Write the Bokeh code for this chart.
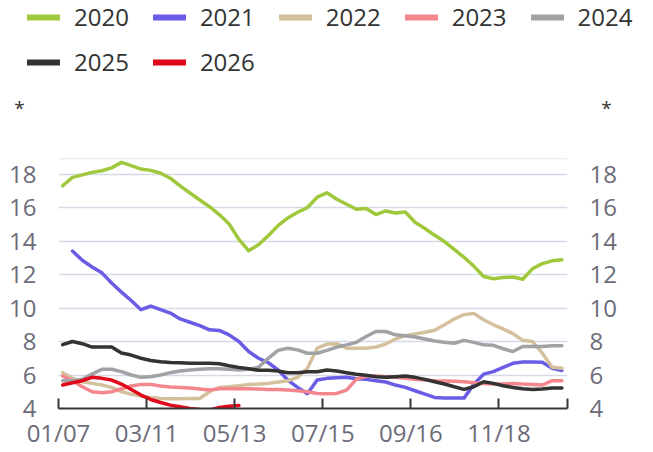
from bokeh.plotting import figure
from bokeh.layouts import column
from bokeh.models import Range1d, LinearAxis, FixedTicker, Legend, LegendItem, Label, Span
from bokeh.embed import file_html
from bokeh.resources import INLINE

# ---------------- data ----------------
years = ["2020", "2021", "2022", "2023", "2024", "2025", "2026"]
colors = ["#a0c83c", "#6b5ce6", "#d4c09c", "#f4868e", "#a0a2a6", "#333333", "#e0081a"]

x_tick_labels = ["01/07", "03/11", "05/13", "07/15", "09/16", "11/18", ""]
x_tick_days = [0, 63, 126, 189, 252, 315, 364]
y_ticks = [4, 6, 8, 10, 12, 14, 16, 18]
y_min, y_max = 4, 18.93
unit_text = "*"

week_index = list(range(52))          # weekly observations
first_obs_day = 3                     # first observation, days after 01/07

s2020 = [17.3, 17.8, 17.95, 18.1, 18.2, 18.37, 18.7, 18.5, 18.3, 18.22, 18.05, 17.75, 17.3,
         16.87, 16.45, 16.05, 15.58, 15.02, 14.1, 13.42, 13.78, 14.32, 14.92, 15.38, 15.72, 16.0,
         16.62, 16.88, 16.5, 16.2, 15.9, 15.95, 15.58, 15.8, 15.68, 15.73, 15.12, 14.75, 14.35,
         13.97, 13.5, 13.03, 12.5, 11.88, 11.75, 11.82, 11.85, 11.72, 12.35, 12.65, 12.82, 12.88]
s2021 = [None, 13.4, 12.85, 12.45, 12.1, 11.5, 10.95, 10.45, 9.9, 10.12, 9.9, 9.7, 9.35,
         9.15, 8.95, 8.7, 8.66, 8.4, 8.0, 7.4, 7.0, 6.74, 6.3, 5.7, 5.26, 4.88,
         5.7, 5.8, 5.84, 5.86, 5.78, 5.74, 5.66, 5.58, 5.4, 5.26, 5.06, 4.86, 4.66,
         4.62, 4.62, 4.62, 5.45, 6.05, 6.2, 6.45, 6.7, 6.78, 6.78, 6.76, 6.4, 6.27]
s2022 = [6.14, 5.8, 5.6, 5.5, 5.4, 5.26, 5.0, 4.86, 4.74, 4.66, 4.6, 4.58, 4.58,
         4.6, 4.6, 5.0, 5.26, 5.3, 5.36, 5.44, 5.46, 5.5, 5.58, 5.66, 5.86, 6.4,
         7.6, 7.85, 7.87, 7.6, 7.6, 7.6, 7.67, 7.85, 8.15, 8.35, 8.45, 8.55, 8.67,
         9.0, 9.35, 9.6, 9.68, 9.3, 9.0, 8.75, 8.47, 8.07, 8.0, 7.3, 6.46, 6.4]
s2023 = [5.94, 5.66, 5.3, 5.0, 4.94, 5.0, 5.18, 5.34, 5.44, 5.44, 5.34, 5.28, 5.26,
         5.22, 5.16, 5.1, 5.18, 5.18, 5.18, 5.18, 5.16, 5.14, 5.14, 5.1, 5.06, 5.0,
         4.9, 4.88, 4.9, 5.1, 5.74, 5.94, 5.94, 5.9, 5.86, 5.8, 5.74, 5.7, 5.66,
         5.64, 5.62, 5.6, 5.54, 5.5, 5.46, 5.46, 5.5, 5.46, 5.44, 5.4, 5.66, 5.66]
s2024 = [5.66, 5.66, 5.75, 6.05, 6.34, 6.34, 6.2, 6.0, 5.86, 5.9, 6.0, 6.14, 6.24,
         6.3, 6.34, 6.38, 6.38, 6.34, 6.3, 6.34, 6.46, 7.0, 7.47, 7.6, 7.5, 7.3,
         7.3, 7.47, 7.67, 7.8, 7.95, 8.3, 8.6, 8.6, 8.4, 8.35, 8.27, 8.15, 8.03,
         7.95, 7.9, 8.07, 7.95, 7.8, 7.77, 7.57, 7.4, 7.7, 7.7, 7.7, 7.75, 7.75]
s2025 = [7.81, 8.0, 7.87, 7.67, 7.67, 7.67, 7.31, 7.19, 7.0, 6.87, 6.79, 6.75, 6.73,
         6.7, 6.7, 6.7, 6.67, 6.55, 6.45, 6.37, 6.28, 6.28, 6.24, 6.14, 6.14, 6.2,
         6.2, 6.3, 6.24, 6.14, 6.04, 5.98, 5.9, 5.86, 5.9, 5.94, 5.86, 5.74, 5.6,
         5.46, 5.3, 5.14, 5.3, 5.6, 5.5, 5.36, 5.26, 5.18, 5.14, 5.16, 5.22, 5.22]
s2026 = [5.4, 5.54, 5.66, 5.86, 5.8, 5.7, 5.46, 5.14, 4.8, 4.54, 4.36, 4.2, 4.1,
         4.0, 3.94, 3.9, 4.06, 4.14, 4.18]
series = [s2020, s2021, s2022, s2023, s2024, s2025, s2026]

# ---------------- styles ----------------
FONT = "Open Sans"
GRID = "#d6dae6"
TICK_TEXT = "#6c6c78"
AXIS = "#383838"
W, H_TOP, H_MAIN = 653, 150, 302

# ---------- header strip: legend and unit marks ----------
top = figure(width=W, height=H_TOP, output_backend="svg", toolbar_location=None,
             x_range=Range1d(0, W), y_range=Range1d(H_TOP, 0),
             x_axis_location=None, y_axis_location=None, min_border=0)
top.frame_align = False
top.grid.visible = False
top.outline_line_color = None

nan = float("nan")
legend_items = []
for yr, col in zip(years, colors):
    swatch = top.line([nan], [nan], line_color=col, line_width=6, line_cap="round")
    legend_items.append(LegendItem(label=yr, renderers=[swatch]))

def make_legend(items, loc):
    lg = Legend(items=items, orientation="horizontal", location=loc)
    lg.glyph_width = 33
    lg.glyph_height = 28
    lg.label_height = 28
    lg.label_standoff = 14
    lg.spacing = 24
    lg.padding = 0
    lg.margin = 0
    lg.border_line_color = None
    lg.background_fill_alpha = 0
    lg.label_text_font = FONT
    lg.label_text_font_size = "24px"
    lg.label_text_color = "#333333"
    return lg

top.add_layout(make_legend(legend_items[:5], (27, 117)))
top.add_layout(make_legend(legend_items[5:], (27, 72)))

for ux in (19, 606):
    top.add_layout(Label(x=ux, y=107, text=unit_text, text_align="center",
                         text_baseline="alphabetic", text_font=FONT,
                         text_font_size="19px", text_color="#333333"))

# ---------- main chart ----------
p = figure(width=W, height=H_MAIN, output_backend="svg", toolbar_location=None,
           x_range=Range1d(x_tick_days[0], x_tick_days[-1]), y_range=Range1d(y_min, y_max),
           min_border_left=58, min_border_right=86, min_border_top=8, min_border_bottom=44)
p.frame_align = False
p.outline_line_color = None
p.xgrid.visible = False
p.ygrid.ticker = FixedTicker(ticks=y_ticks)
p.ygrid.grid_line_color = GRID
p.ygrid.grid_line_width = 1.5

# top border line of the plotting area
p.add_layout(Span(location=y_max, dimension="width", line_color=GRID, line_width=1.5))

xa = p.xaxis[0]
xa.ticker = FixedTicker(ticks=x_tick_days)
xa.major_label_overrides = {d: lab for d, lab in zip(x_tick_days, x_tick_labels)}
xa.axis_line_color = AXIS
xa.axis_line_width = 2
xa.major_tick_line_color = AXIS
xa.major_tick_line_width = 2
xa.major_tick_in = 10
xa.major_tick_out = 0
xa.minor_tick_line_color = None
xa.major_label_text_font = FONT
xa.major_label_text_font_size = "24px"
xa.major_label_text_color = TICK_TEXT
xa.major_label_standoff = 7

ya = p.yaxis[0]
ya_r = LinearAxis()
p.add_layout(ya_r, "right")
for ax in (ya, ya_r):
    ax.ticker = FixedTicker(ticks=y_ticks)
    ax.axis_line_color = None
    ax.major_tick_line_color = None
    ax.minor_tick_line_color = None
    ax.major_label_text_font = FONT
    ax.major_label_text_font_size = "24px"
    ax.major_label_text_color = TICK_TEXT
    ax.major_label_standoff = 16

for yr, col, vals in zip(years, colors, series):
    xs = [first_obs_day + 7 * w for w in week_index[:len(vals)]]
    ys = [nan if v is None else v for v in vals]
    p.line(xs, ys, line_color=col, line_width=3.5, line_join="round", line_cap="round")

layout = column(top, p, spacing=0)
open("out.html", "w").write(file_html(layout, INLINE))
